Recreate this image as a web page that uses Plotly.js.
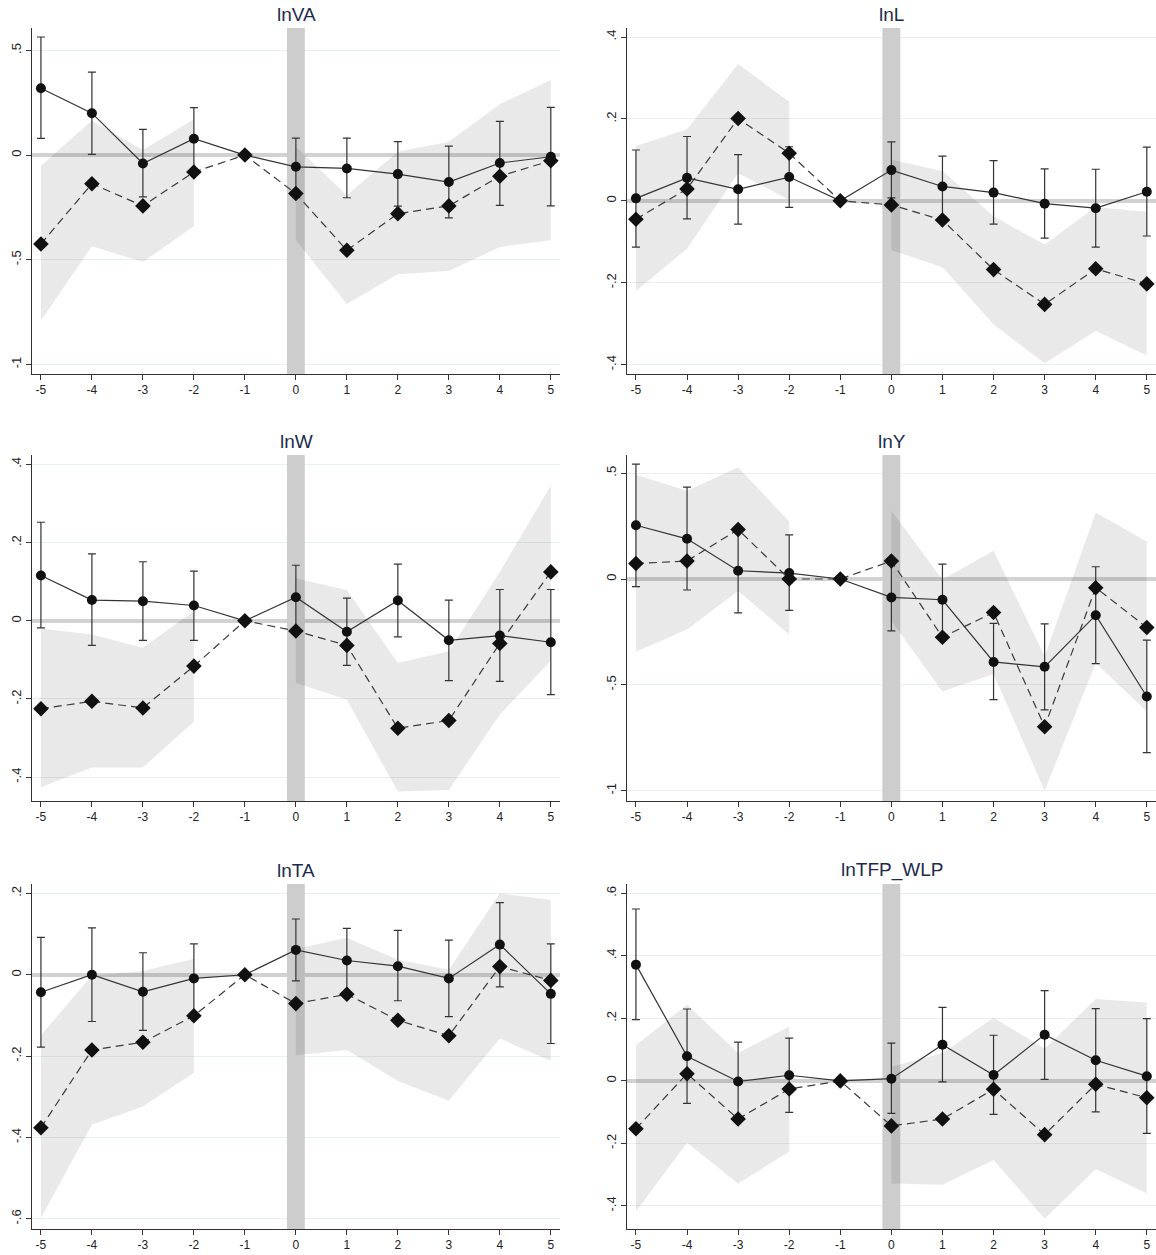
<!DOCTYPE html>
<html><head><meta charset="utf-8">
<script src="https://cdn.plot.ly/plotly-3.0.1.min.js"></script>
<style>html,body{margin:0;padding:0;background:#fff}#chart{width:1156px;height:1255px}</style>
</head><body><div id="chart"></div>
<script>
// ---------- data ----------
const periods = [-5,-4,-3,-2,-1,0,1,2,3,4,5];
const panelTitles = ["lnVA","lnL","lnW","lnY","lnTA","lnTFP_WLP"];

// lnVA
const vaCoef   = [0.319,0.200,-0.040,0.078,0,-0.056,-0.064,-0.091,-0.129,-0.038,-0.008];
const vaHi     = [0.564,0.396,0.123,0.227,null,0.081,0.081,0.064,0.043,0.161,0.228];
const vaLo     = [0.080,0.003,-0.200,-0.071,null,-0.193,-0.204,-0.244,-0.300,-0.240,-0.243];
const vaAlt    = [-0.425,-0.137,-0.243,-0.081,0,-0.184,-0.455,-0.280,-0.243,-0.101,-0.027];
const vaBandHi = [-0.051,0.165,0.024,0.171,null,0.040,-0.192,0.016,0.064,0.243,0.359];
const vaBandLo = [-0.791,-0.436,-0.511,-0.340,null,-0.407,-0.711,-0.570,-0.554,-0.439,-0.407];

// lnL
const lCoef   = [0.006,0.056,0.028,0.058,0,0.075,0.035,0.020,-0.007,-0.018,0.022];
const lHi     = [0.124,0.157,0.113,0.132,null,0.144,0.109,0.098,0.078,0.077,0.131];
const lLo     = [-0.113,-0.044,-0.057,-0.016,null,0.007,-0.039,-0.057,-0.091,-0.113,-0.086];
const lAlt    = [-0.045,0.029,0.201,0.116,0,-0.010,-0.047,-0.168,-0.253,-0.166,-0.203];
const lBandHi = [0.134,0.175,0.334,0.242,null,0.100,0.073,-0.038,-0.107,-0.015,-0.027];
const lBandLo = [-0.220,-0.117,0.067,0.002,null,-0.121,-0.162,-0.302,-0.397,-0.318,-0.378];

// lnW
const wCoef   = [0.116,0.053,0.050,0.039,0,0.060,-0.028,0.052,-0.050,-0.038,-0.055];
const wHi     = [0.252,0.171,0.151,0.127,null,0.142,0.058,0.145,0.053,0.080,0.080];
const wLo     = [-0.018,-0.063,-0.050,-0.050,null,-0.022,-0.114,-0.041,-0.153,-0.155,-0.189];
const wAlt    = [-0.225,-0.206,-0.223,-0.116,0,-0.026,-0.063,-0.275,-0.255,-0.058,0.125];
const wBandHi = [-0.020,-0.035,-0.069,0.025,null,0.109,0.079,-0.108,-0.078,0.125,0.346];
const wBandLo = [-0.426,-0.375,-0.375,-0.258,null,-0.159,-0.202,-0.437,-0.433,-0.240,-0.102];

// lnY
const yCoef   = [0.254,0.190,0.039,0.028,0,-0.087,-0.098,-0.392,-0.415,-0.171,-0.555];
const yHi     = [0.543,0.434,0.238,0.209,null,0.071,0.070,-0.210,-0.212,0.058,-0.289];
const yLo     = [-0.036,-0.052,-0.160,-0.148,null,-0.245,-0.266,-0.570,-0.618,-0.400,-0.820];
const yAlt    = [0.073,0.085,0.234,0.000,0,0.085,-0.275,-0.158,-0.698,-0.041,-0.229];
const yBandHi = [0.493,0.417,0.528,0.272,null,0.322,-0.002,0.133,-0.365,0.314,0.177];
const yBandLo = [-0.344,-0.239,-0.057,-0.262,null,-0.199,-0.531,-0.449,-1.000,-0.397,-0.626];

// lnTA
const taCoef   = [-0.043,0.000,-0.042,-0.009,0,0.061,0.035,0.021,-0.009,0.074,-0.047];
const taHi     = [0.092,0.115,0.054,0.076,null,0.137,0.114,0.109,0.085,0.177,0.076];
const taLo     = [-0.178,-0.115,-0.137,-0.094,null,-0.015,-0.044,-0.064,-0.103,-0.030,-0.169];
const taAlt    = [-0.376,-0.185,-0.166,-0.101,0,-0.071,-0.048,-0.112,-0.150,0.020,-0.014];
const taBandHi = [-0.149,-0.002,0.009,0.039,null,0.064,0.091,0.037,0.012,0.200,0.184];
const taBandLo = [-0.598,-0.369,-0.324,-0.241,null,-0.198,-0.185,-0.261,-0.310,-0.157,-0.212];

// lnTFP_WLP
const tfpCoef   = [0.372,0.079,-0.002,0.018,0,0.007,0.116,0.019,0.148,0.066,0.015];
const tfpHi     = [0.550,0.230,0.124,0.137,null,0.121,0.235,0.146,0.289,0.231,0.199];
const tfpLo     = [0.196,-0.072,-0.128,-0.101,null,-0.104,-0.003,-0.107,0.005,-0.099,-0.168];
const tfpAlt    = [-0.153,0.023,-0.122,-0.026,0,-0.144,-0.122,-0.027,-0.172,-0.011,-0.054];
const tfpBandHi = [0.114,0.244,0.089,0.174,null,0.045,0.089,0.202,0.103,0.262,0.251];
const tfpBandLo = [-0.418,-0.198,-0.328,-0.227,null,-0.328,-0.332,-0.253,-0.441,-0.282,-0.360];

// tick labels
const xTickLabels = ["-5","-4","-3","-2","-1","0","1","2","3","4","5"];
const vaTicks  = [-1,-0.5,0,0.5];          const vaTickText  = ["-1","-.5","0",".5"];
const lTicks   = [-0.4,-0.2,0,0.2,0.4];    const lTickText   = ["-.4","-.2","0",".2",".4"];
const wTicks   = [-0.4,-0.2,0,0.2,0.4];    const wTickText   = ["-.4","-.2","0",".2",".4"];
const yTicks   = [-1,-0.5,0,0.5];          const yTickText   = ["-1","-.5","0",".5"];
const taTicks  = [-0.6,-0.4,-0.2,0,0.2];   const taTickText  = ["-.6","-.4","-.2","0",".2"];
const tfpTicks = [-0.4,-0.2,0,0.2,0.4,0.6];const tfpTickText = ["-.4","-.2","0",".2",".4",".6"];

// ---------- layout / styling ----------
const panels = [
  {coef:vaCoef, hi:vaHi, lo:vaLo, alt:vaAlt, bhi:vaBandHi, blo:vaBandLo, tv:vaTicks, tt:vaTickText, range:[-1.046,0.607]},
  {coef:lCoef, hi:lHi, lo:lLo, alt:lAlt, bhi:lBandHi, blo:lBandLo, tv:lTicks, tt:lTickText, range:[-0.423,0.422]},
  {coef:wCoef, hi:wHi, lo:wLo, alt:wAlt, bhi:wBandHi, blo:wBandLo, tv:wTicks, tt:wTickText, range:[-0.461,0.424]},
  {coef:yCoef, hi:yHi, lo:yLo, alt:yAlt, bhi:yBandHi, blo:yBandLo, tv:yTicks, tt:yTickText, range:[-1.049,0.586]},
  {coef:taCoef, hi:taHi, lo:taLo, alt:taAlt, bhi:taBandHi, blo:taBandLo, tv:taTicks, tt:taTickText, range:[-0.625,0.223]},
  {coef:tfpCoef, hi:tfpHi, lo:tfpLo, alt:tfpAlt, bhi:tfpBandHi, blo:tfpBandLo, tv:tfpTicks, tt:tfpTickText, range:[-0.474,0.630]}
];

const W = 1156, H = 1255;
const colX = [[32/W, 560/W], [627/W, 1]];
const rowY = [[1-374/H, 1-28/H], [1-801/H, 1-455/H], [1-1229/H, 1-884/H]];
const xRange = [-5.175, 5.18];
const eventHalfWidth = 0.175;

const FONT = "Liberation Sans, Arial, sans-serif";
const traces = [];
const layout = {
  width: W, height: H,
  margin: {l:0, r:0, t:0, b:0},
  paper_bgcolor: "#ffffff", plot_bgcolor: "#ffffff",
  showlegend: false,
  font: {family: FONT, size: 11, color: "#222"},
  annotations: []
};

function runs(arr) {
  const out = []; let cur = [];
  arr.forEach((v, i) => {
    if (v === null) { if (cur.length) out.push(cur); cur = []; }
    else cur.push(i);
  });
  if (cur.length) out.push(cur);
  return out;
}

panels.forEach((p, k) => {
  const n = k + 1;
  const xa = n === 1 ? "x" : "x" + n;
  const ya = n === 1 ? "y" : "y" + n;
  const col = k % 2, row = Math.floor(k / 2);

  // event-period marker band at t = 0 (full plot height)
  traces.push({
    type: "scatter", mode: "lines", xaxis: xa, yaxis: ya,
    x: [-eventHalfWidth, eventHalfWidth, eventHalfWidth, -eventHalfWidth],
    y: [p.range[0], p.range[0], p.range[1], p.range[1]],
    fill: "toself", fillcolor: "#cdcdcd",
    line: {width: 0, color: "rgba(0,0,0,0)"}, hoverinfo: "skip"
  });

  // confidence band for dashed series, drawn per contiguous run
  runs(p.bhi).forEach(idx => {
    const xs = idx.map(i => periods[i]);
    const up = idx.map(i => p.bhi[i]);
    const dn = idx.map(i => p.blo[i]);
    traces.push({
      type: "scatter", mode: "lines", xaxis: xa, yaxis: ya,
      x: xs.concat(xs.slice().reverse()),
      y: up.concat(dn.slice().reverse()),
      fill: "toself", fillcolor: "rgba(0,0,0,0.085)",
      line: {width: 0, color: "rgba(0,0,0,0)"}, hoverinfo: "skip"
    });
  });

  // solid series with error bars
  traces.push({
    type: "scatter", mode: "lines+markers", xaxis: xa, yaxis: ya,
    x: periods, y: p.coef,
    line: {color: "#333333", width: 1.2},
    marker: {symbol: "circle", size: 10, color: "#111111"},
    error_y: {
      type: "data", symmetric: false, visible: true,
      array: p.hi.map((v, i) => v === null ? NaN : v - p.coef[i]),
      arrayminus: p.lo.map((v, i) => v === null ? NaN : p.coef[i] - v),
      color: "#333333", thickness: 1.2, width: 4
    }
  });

  // dashed series
  traces.push({
    type: "scatter", mode: "lines+markers", xaxis: xa, yaxis: ya,
    x: periods, y: p.alt,
    line: {color: "#3a3a3a", width: 1.2, dash: "8px,5px"},
    marker: {symbol: "diamond", size: 12, color: "#111111"}
  });

  const xKey = n === 1 ? "xaxis" : "xaxis" + n;
  const yKey = n === 1 ? "yaxis" : "yaxis" + n;
  layout[xKey] = {
    domain: colX[col], anchor: ya, range: xRange,
    tickvals: periods, ticktext: xTickLabels,
    showgrid: false, zeroline: false,
    showline: true, linecolor: "#333", linewidth: 1,
    ticks: "outside", ticklen: 5, tickcolor: "#333",
    tickfont: {family: FONT, size: 12, color: "#222"}, fixedrange: true
  };
  layout[yKey] = {
    domain: rowY[row], anchor: xa, range: p.range,
    tickvals: p.tv, ticktext: p.tt, tickangle: -90,
    showgrid: true, gridcolor: "#e7f0f2", gridwidth: 1,
    zeroline: true, zerolinecolor: "#d2d2d2", zerolinewidth: 4,
    showline: true, linecolor: "#333", linewidth: 1,
    ticks: "outside", ticklen: 5, tickcolor: "#333",
    tickfont: {family: FONT, size: 13, color: "#222"}, fixedrange: true
  };

  layout.annotations.push({
    text: panelTitles[k], xref: xa + " domain", yref: ya + " domain",
    x: 0.5, y: 1, xanchor: "center", yanchor: "bottom", yshift: 1,
    showarrow: false, font: {family: FONT, size: 19, color: "#1c2b4c"}
  });
});

Plotly.newPlot("chart", traces, layout, {staticPlot: true, displayModeBar: false});
</script>
</body></html>
